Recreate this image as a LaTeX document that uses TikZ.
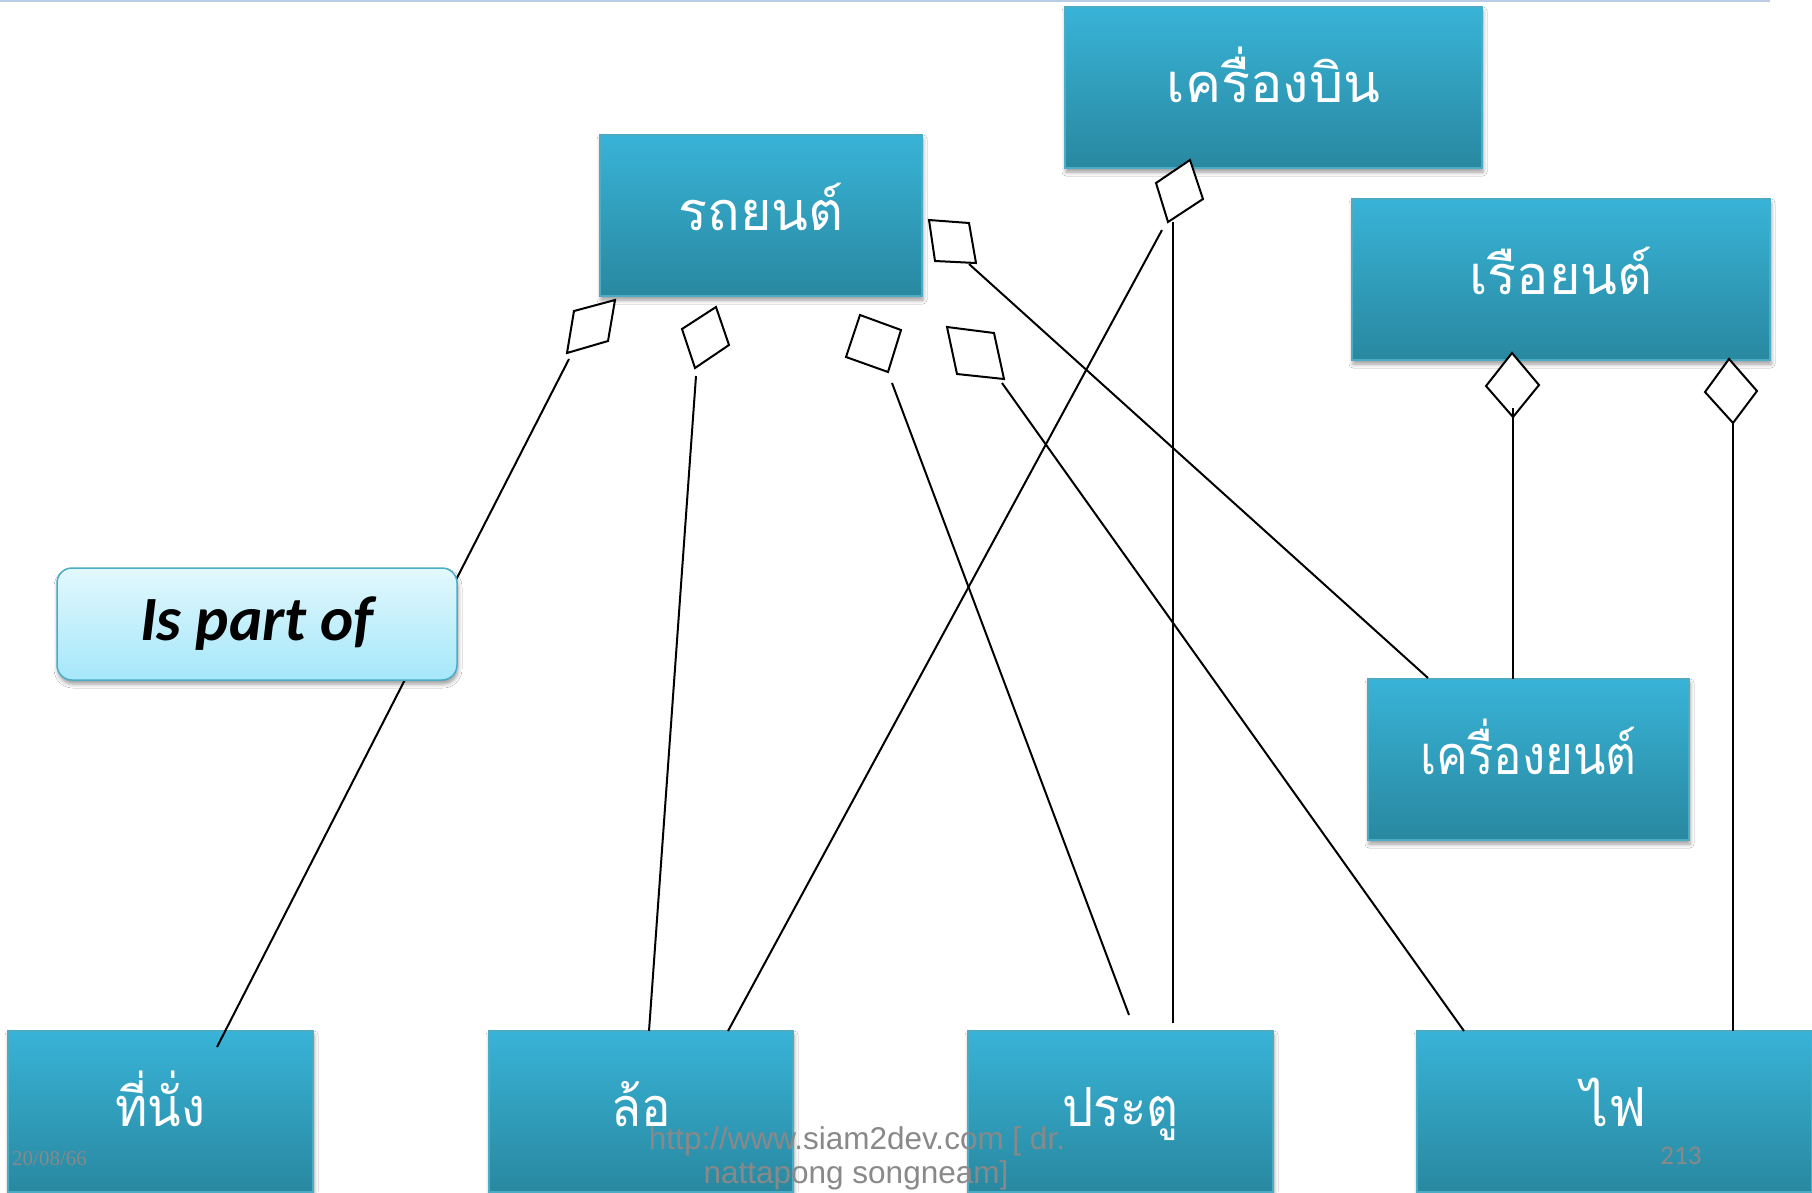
\documentclass[tikz,border=0pt]{standalone}
\usepackage{fontspec}
\setmainfont{Liberation Sans}
\newfontfamily\thaifont[Script=Thai]{Loma}
\newfontfamily\thainarrow[Script=Thai, FakeStretch=0.91]{Loma}
\newfontfamily\thaicond[Script=Thai, FakeStretch=0.88]{Loma}
\newfontfamily\calibrifont{Carlito}
\newfontfamily\seriffont{Liberation Serif}
\usetikzlibrary{shadows.blur}

\definecolor{boxtop}{RGB}{56,179,215}
\definecolor{boxbot}{RGB}{41,136,160}
\definecolor{boxedge}{RGB}{75,172,198}
\definecolor{labtop}{RGB}{226,248,253}
\definecolor{labbot}{RGB}{165,231,250}
\definecolor{labedge}{RGB}{75,172,198}
\definecolor{footgray}{RGB}{137,137,137}
\definecolor{topline}{RGB}{185,205,229}

\tikzset{
  classbox/.style={draw=boxedge, line width=1.5pt, top color=boxtop, bottom color=boxbot,
    minimum height=161pt, inner sep=0pt, text=white,
    font=\thaifont\fontsize{54}{60}\selectfont, text height=35pt, text depth=6pt,
    blur shadow={shadow xshift=1pt, shadow yshift=-4pt, shadow blur radius=4pt, shadow opacity=40}},
  narrowtext/.style={font=\thainarrow\fontsize{54}{60}\selectfont},
  condtext/.style={font=\thaicond\fontsize{54}{60}\selectfont},
  rolebox/.style={draw=labedge, line width=1.5pt, rounded corners=15pt, top color=labtop, bottom color=labbot,
    minimum width=400pt, minimum height=112pt, inner sep=0pt, text=black,
    font=\calibrifont\bfseries\itshape\fontsize{63}{65}\selectfont, text height=40pt, text depth=8pt,
    blur shadow={shadow xshift=1pt, shadow yshift=-4pt, shadow blur radius=4pt, shadow opacity=40}},
  link/.style={draw=black, line width=2pt},
  aggdiamond/.style={draw=black, line width=2pt, fill=white, line join=miter},
  footer/.style={text=footgray, inner sep=0pt}
}

\begin{document}
\begin{tikzpicture}[x=1pt, y=-1pt]
\useasboundingbox (0,0) rectangle (1812,1192);
\fill[white] (0,0) rectangle (1812,1192);

% thin rule along the top edge
\coordinate (ruleL) at (0,1.2);
\coordinate (ruleR) at (1770,1.2);
\draw[topline, line width=2.4pt] (ruleL) -- (ruleR);

% classes
\node[classbox, minimum width=417pt] (plane)  at (1273.5,87.5)  {เครื่องบิน};
\node[classbox, minimum width=322pt] (car)    at (761,215.5)    {รถยนต์};
\node[classbox, minimum width=418pt] (boat)   at (1561,279.5)   {เรือยนต์};
\node[classbox, condtext, minimum width=321pt] (engine) at (1528.5,759.5) {เครื่องยนต์};
\node[classbox, narrowtext, minimum width=305pt] (seat)   at (160.5,1111.5) {ที่นั่ง};
\node[classbox, narrowtext, minimum width=304pt] (wheel)  at (641,1111.5)   {ล้อ};
\node[classbox, narrowtext, minimum width=305pt] (door)   at (1120.5,1111.5){ประตู};
\node[classbox, minimum width=395pt] (light)  at (1614.5,1111.5){ไฟ};

% aggregation diamonds
\draw[aggdiamond] (615,300) -- (608,341) -- (567,353) -- (574,311) -- cycle;
\draw[aggdiamond] (716,307) -- (729,345) -- (695,368) -- (682,329) -- cycle;
\draw[aggdiamond] (860,315) -- (901,330) -- (888,372) -- (846,357) -- cycle;
\draw[aggdiamond] (947,327) -- (994,333) -- (1004,379) -- (957,374) -- cycle;
\draw[aggdiamond] (929,220) -- (969,223) -- (976,263) -- (935,261) -- cycle;
\draw[aggdiamond] (1190,160) -- (1203,199) -- (1168,222) -- (1156,183) -- cycle;
\draw[aggdiamond] (1512,353) -- (1539,385) -- (1513,417) -- (1486,386) -- cycle;
\draw[aggdiamond] (1729,359) -- (1757,391) -- (1733,423) -- (1705,392) -- cycle;

% connector end points
\coordinate (carSeatA)    at (569,359);   \coordinate (carSeatB)    at (217,1047);
\coordinate (carWheelA)   at (696,376);   \coordinate (carWheelB)   at (649,1031);
\coordinate (carDoorA)    at (892,383);   \coordinate (carDoorB)    at (1129,1015);
\coordinate (carLightA)   at (1002,383);  \coordinate (carLightB)   at (1464,1031);
\coordinate (carEngineA)  at (969,264);   \coordinate (carEngineB)  at (1428,678);
\coordinate (planeWheelA) at (1162,230);  \coordinate (planeWheelB) at (728,1031);
\coordinate (planeDoorA)  at (1173,222);  \coordinate (planeDoorB)  at (1173,1023);
\coordinate (boatEngineA) at (1513,408);  \coordinate (boatEngineB) at (1513,679);
\coordinate (boatLightA)  at (1733,421);  \coordinate (boatLightB)  at (1733,1031);

\draw[link] (carSeatA) -- (carSeatB);
\draw[link] (carWheelA) -- (carWheelB);
\draw[link] (carDoorA) -- (carDoorB);
\draw[link] (carLightA) -- (carLightB);
\draw[link] (carEngineA) -- (carEngineB);
\draw[link] (planeWheelA) -- (planeWheelB);
\draw[link] (planeDoorA) -- (planeDoorB);
\draw[link] (boatEngineA) -- (boatEngineB);
\draw[link] (boatLightA) -- (boatLightB);

% relation label on top of the seat connector
\node[rolebox] (role) at (257,624) {Is part of};

% footer
\node[footer, anchor=base west, font=\seriffont\fontsize{21}{24}\selectfont] (date) at (12,1165) {20/08/66};
\node[footer, anchor=base, font=\fontsize{31.5}{34}\selectfont] (site1) at (857,1149) {http://www.siam2dev.com [ dr.};
\node[footer, anchor=base, font=\fontsize{31.5}{34}\selectfont] (site2) at (856,1183) {nattapong songneam]};
\node[footer, anchor=base, font=\calibrifont\fontsize{27}{30}\selectfont] (page) at (1681,1164) {213};
\end{tikzpicture}
\end{document}
